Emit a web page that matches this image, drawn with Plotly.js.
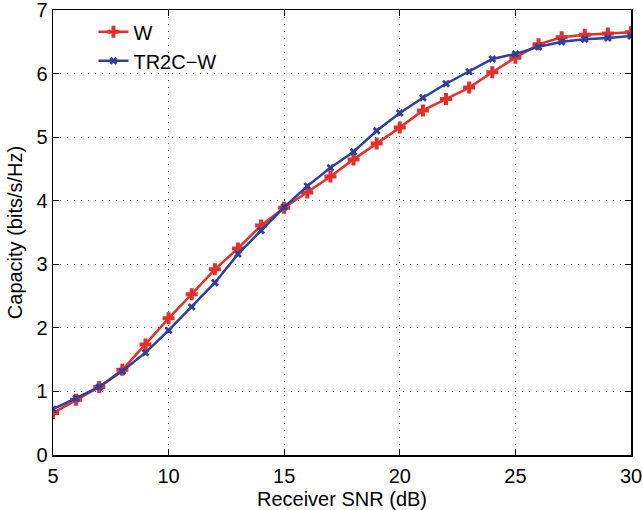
<!DOCTYPE html>
<html><head><meta charset="utf-8">
<script src="https://cdn.plot.ly/plotly-3.0.1.min.js"></script>
<style>html,body{margin:0;padding:0;background:#fff}#chart{width:643px;height:510px}</style>
</head><body><div id="chart"></div>
<script>
var snr = [5,6,7,8,9,10,11,12,13,14,15,16,17,18,19,20,21,22,23,24,25,26,27,28,29,30];
var capW = [0.66,0.87,1.07,1.34,1.74,2.15,2.53,2.92,3.25,3.61,3.89,4.13,4.38,4.65,4.90,5.15,5.42,5.60,5.78,6.02,6.25,6.46,6.57,6.61,6.63,6.65];
var capTR2C = [0.72,0.89,1.07,1.32,1.61,1.96,2.33,2.71,3.16,3.53,3.90,4.23,4.52,4.77,5.10,5.38,5.62,5.84,6.03,6.23,6.31,6.42,6.50,6.54,6.56,6.59];
var names = ['W','TR2C\u2212W'];

var traces = [
  {x: snr, y: capW, name: names[0], mode: 'lines+markers', type: 'scatter',
   line: {color: '#e2312b', width: 2.5},
   marker: {symbol: 'cross', size: 10, color: '#e2312b'}},
  {x: snr, y: capTR2C, name: names[1], mode: 'lines+markers', type: 'scatter',
   line: {color: '#2e3f9d', width: 2.5},
   marker: {symbol: 'x', size: 7, color: '#2e3f9d'}}
];
var fam = 'Liberation Sans, Arial, sans-serif';
var axFont = {family: fam, size: 20, color: '#000'};
var layout = {
  width: 643, height: 510,
  margin: {l: 53, r: 12, t: 10, b: 55},
  paper_bgcolor: '#fff', plot_bgcolor: '#fff',
  font: axFont,
  showlegend: true,
  legend: {x: 0.07, y: 0.995, xanchor: 'left', yanchor: 'top', bgcolor: 'rgba(0,0,0,0)',
           tracegroupgap: 0, font: {family: fam, size: 20, color: '#000'}},
  xaxis: {range: [5, 30], dtick: 5, tick0: 5, showline: true, mirror: 'ticks', linecolor: '#000', linewidth: 1.5,
          ticks: 'inside', ticklen: 6, tickcolor: '#000', showgrid: true, gridcolor: '#555', griddash: '1px,6px', gridwidth: 1,
          zeroline: false, tickfont: axFont, ticklabeloverflow: 'allow', ticklabelstandoff: 2,
          title: {text: 'Receiver SNR (dB)', font: axFont, standoff: 7}},
  yaxis: {range: [0, 7], dtick: 1, showline: true, mirror: 'ticks', linecolor: '#000', linewidth: 1.5,
          ticks: 'inside', ticklen: 6, tickcolor: '#000', showgrid: true, gridcolor: '#555', griddash: '1px,6px', gridwidth: 1,
          zeroline: false, tickfont: axFont, ticklabeloverflow: 'allow',
          title: {text: 'Capacity (bits/s/Hz)', font: axFont, standoff: 8}}
};
Plotly.newPlot('chart', traces, layout, {displayModeBar: false, staticPlot: true});
</script></body></html>
